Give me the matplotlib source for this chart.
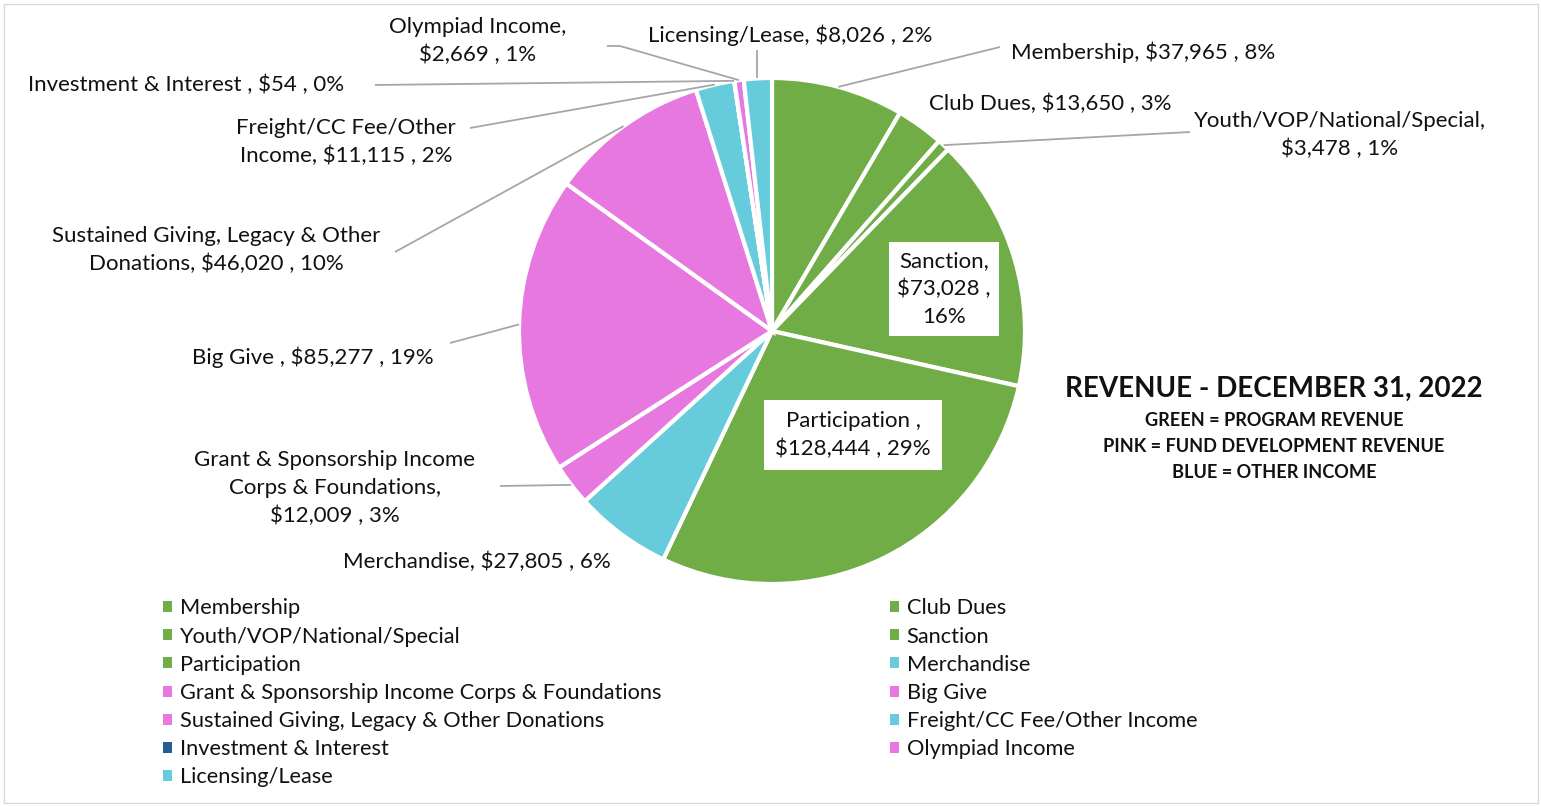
import numpy as np
import matplotlib.pyplot as plt
from matplotlib.patches import Patch, Rectangle

plt.rcParams['font.family'] = ['Lato', 'DejaVu Sans']

# revenue categories, clockwise from 12 o'clock
categories = ['Membership', 'Club Dues', 'Youth/VOP/National/Special', 'Sanction',
              'Participation', 'Merchandise', 'Grant & Sponsorship Income Corps & Foundations',
              'Big Give', 'Sustained Giving, Legacy & Other Donations',
              'Freight/CC Fee/Other Income', 'Investment & Interest', 'Olympiad Income',
              'Licensing/Lease']
amounts = [37965, 13650, 3478, 73028, 128444, 27805, 12009, 85277, 46020, 11115, 54, 2669, 8026]
percents = ['8%', '3%', '1%', '16%', '29%', '6%', '3%', '19%', '10%', '2%', '0%', '1%', '2%']
# label text as Excel wrapped it
label_text = ['Membership, $37,965 , 8%',
              'Club Dues, $13,650 , 3%',
              'Youth/VOP/National/Special,\n$3,478 , 1%',
              'Sanction,\n$73,028 ,\n16%',
              'Participation ,\n$128,444 , 29%',
              'Merchandise, $27,805 , 6%',
              'Grant & Sponsorship Income\nCorps & Foundations,\n$12,009 , 3%',
              'Big Give , $85,277 , 19%',
              'Sustained Giving, Legacy & Other\nDonations, $46,020 , 10%',
              'Freight/CC Fee/Other\nIncome, $11,115 , 2%',
              'Investment & Interest , $54 , 0%',
              'Olympiad Income,\n$2,669 , 1%',
              'Licensing/Lease, $8,026 , 2%']

GREEN = '#70AD47'
PINK = '#E678E0'
BLUE = '#66CCDB'
DARK = '#255E91'
colors = [GREEN, GREEN, GREEN, GREEN, GREEN, BLUE, PINK, PINK, PINK, BLUE, DARK, PINK, BLUE]

W, H = 1541, 806
fig = plt.figure(figsize=(W / 100, H / 100), dpi=100)
ax = fig.add_axes([0, 0, 1, 1])

def Y(y):
    # image row -> data y
    return H - y

cx, cy, R = 772, Y(331), 253
wedges, _ = ax.pie(amounts, colors=colors, startangle=90, counterclock=False,
                   center=(cx, cy), radius=R,
                   wedgeprops=dict(edgecolor='white', linewidth=3))
ax.set_xlim(0, W)
ax.set_ylim(0, H)
ax.set_aspect('equal')
ax.axis('off')

def anchor(i):
    w = wedges[i]
    th = np.deg2rad((w.theta1 + w.theta2) / 2)
    return cx + R * np.cos(th), cy + R * np.sin(th)

# label positions (image coords) and leader line end points
label_pos = {0: (1143, 52), 1: (1050, 104), 2: (1340, 135), 3: (944, 289),
             4: (853, 435), 5: (477, 562), 6: (335, 488), 7: (313, 357),
             8: (216, 250), 9: (346, 142), 10: (186, 85), 11: (478, 41),
             12: (790, 35)}
leaders = {0: [(1000, 47)], 2: [(1190, 132)], 6: [(500, 486)], 7: [(450, 343)],
           8: [(395, 252)], 9: [(470, 128)], 10: [(375, 85)],
           11: [(620, 46), (607, 46)], 12: [(757, 50)]}

FS = 16
for i, txt in enumerate(label_text):
    x, y = label_pos[i]
    kw = {}
    if i == 3:
        kw['bbox'] = dict(facecolor='white', edgecolor='none', pad=6)
    if i == 4:
        kw['bbox'] = dict(facecolor='white', edgecolor='none', pad=8)
    ax.text(x, Y(y), txt, ha='center', va='center', fontsize=FS, color='#111111',
            multialignment='center', linespacing=1.5, **kw)

for i, pts in leaders.items():
    ax0, ay0 = anchor(i)
    if i == 12:
        ax0 = pts[0][0]
    xs = [ax0] + [p[0] for p in pts]
    ys = [ay0] + [Y(p[1]) for p in pts]
    ax.plot(xs, ys, color='#A6A6A6', lw=1.3, solid_capstyle='butt')

# title block
ax.text(1274, Y(389), 'REVENUE - DECEMBER 31, 2022', ha='center', va='center',
        fontsize=20, fontweight='bold', color='#111111')
for k, s in enumerate(['GREEN = PROGRAM REVENUE', 'PINK = FUND DEVELOPMENT REVENUE',
                       'BLUE = OTHER INCOME']):
    ax.text(1274, Y(421 + 26 * k), s, ha='center', va='center',
            fontsize=13.1, fontweight='bold', color='#111111')

# legend, row-major order in two columns
LFS = 15.7
handles = [Patch(facecolor=c, edgecolor='none') for c in colors]
order = list(range(0, 13, 2)) + list(range(1, 13, 2))
leg = fig.legend([handles[i] for i in order], [categories[i] for i in order],
                 ncol=2, loc='upper left', bbox_to_anchor=(159 / W, 1 - 594 / H),
                 frameon=False, fontsize=LFS, handlelength=0.4, handleheight=0.4,
                 handletextpad=0.35, labelspacing=0.375, columnspacing=10.5,
                 borderaxespad=0, borderpad=0.2)
for t in leg.get_texts():
    t.set_color('#111111')

fig.patches.append(Rectangle((4 / W, 3 / H), 1534 / W, 799 / H, transform=fig.transFigure,
                             fill=False, edgecolor='#D9D9D9', lw=1))

fig.savefig('out.png', dpi=100)
